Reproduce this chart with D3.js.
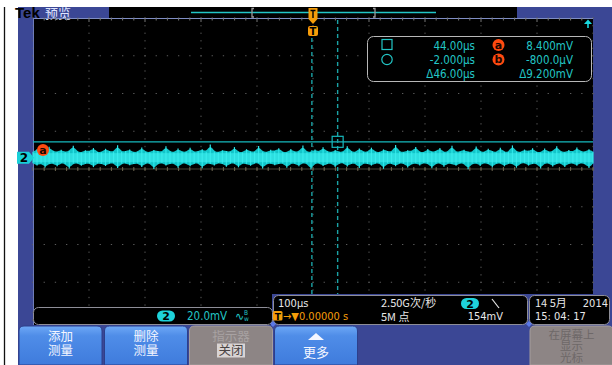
<!DOCTYPE html>
<html><head><meta charset="utf-8">
<script src="https://cdn.jsdelivr.net/npm/d3@7"></script>
<style>html,body{margin:0;padding:0;background:#fff;overflow:hidden}svg{display:block}</style>
</head><body><svg id="scope" width="612" height="365"></svg>
<script>
// Acquisition settings
const timePerDiv = 100;      // µs per division
const voltsPerDiv = 20;      // mV per division
const ch2Position = 0.3;     // divisions above centre
const hDivs = 10, vDivs = 8;
const sampleRate = "2.50G次/秒";
const recordLength = "5M 点";
const triggerLevel = 154;    // mV
const triggerPos = "0.00000 s";
const dateText = ["14 5月", "2014"];
const timeText = "15: 04: 17";

// Channel 2 envelope per display bin (mV): max and min
const ch2High = [3.2,4.6,3.0,2.8,5.8,3.4,3.1,4.2,2.9,3.6,6.3,3.2,2.8,4.0,3.3,5.1,3.0,2.9,4.7,3.4,
  3.1,6.6,3.0,3.5,4.3,2.8,3.2,5.4,3.1,2.9,4.1,3.6,3.0,6.0,3.3,2.8,4.8,3.2,3.0,5.2,
  2.9,3.4,4.4,3.1,7.0,3.2,2.9,4.0,3.5,3.0,5.6,3.1,2.8,4.5,3.3,3.0,6.2,3.2,2.9,4.2,
  3.4,5.0,3.0,2.8,4.6,3.1,3.3,6.4,2.9,3.2,4.3,3.0,5.5,3.4,2.9,4.1,3.1,3.0,6.1,3.3,
  2.8,4.9,3.2,3.0,5.3,3.1,2.9,4.4,3.5,3.0,6.7,3.2,2.9,4.0,3.3,5.7,3.0,2.8,4.6,3.1,
  3.4,5.1,2.9,3.2,6.3,3.0,3.3,4.2,3.1,2.9,5.9,3.2,3.0,4.7,3.4,2.8,5.2,3.1,3.0,6.5,
  3.2,2.9,4.3,3.3,5.0,3.0,2.8,4.8,3.1,3.4,6.0,3.2,2.9,4.1,3.0,5.4,3.3,3.1,4.5,3.2];
const ch2Low = [-3.0,-4.1,-2.9,-5.2,-3.2,-3.0,-4.6,-2.8,-3.4,-5.8,-3.1,-2.9,-4.3,-3.2,-3.0,-5.0,-2.9,-3.3,-4.4,-3.1,
  -2.8,-5.5,-3.2,-3.0,-4.0,-3.4,-2.9,-4.9,-3.1,-3.0,-6.0,-3.2,-2.8,-4.2,-3.3,-3.0,-5.3,-2.9,-3.1,-4.5,
  -3.2,-2.9,-5.6,-3.0,-3.3,-4.1,-2.8,-3.2,-4.8,-3.1,-3.0,-5.1,-2.9,-3.4,-4.3,-3.0,-2.8,-5.7,-3.2,-3.1,
  -4.0,-3.3,-2.9,-5.4,-3.0,-3.2,-4.6,-2.8,-3.1,-6.2,-3.0,-2.9,-4.4,-3.3,-3.0,-5.0,-3.1,-2.8,-4.7,-3.2,
  -3.0,-5.5,-2.9,-3.3,-4.2,-3.1,-2.8,-5.9,-3.0,-3.2,-4.5,-2.9,-3.1,-5.2,-3.3,-3.0,-4.1,-2.8,-3.2,-5.6,
  -3.1,-2.9,-4.8,-3.0,-3.4,-4.3,-2.9,-3.1,-6.1,-3.2,-3.0,-4.4,-2.8,-3.3,-5.1,-3.0,-2.9,-4.6,-3.1,-3.2,
  -5.3,-3.0,-2.8,-4.2,-3.3,-3.1,-5.8,-2.9,-3.0,-4.7,-3.2,-2.9,-5.0,-3.1,-3.0,-4.3,-2.8,-3.4,-5.5,-3.1];

// Cursors a and b
const cursorNames = ["a", "b"];
const cursorTimes = [44, -2];     // µs
const cursorVolts = [8.4, -0.8];  // mV

// Menu buttons
const buttonLabels = [["添加","测量"], ["删除","测量"], ["指示器","关闭"], ["更多"], [], ["在屏幕上","显示","光标"]];
const buttonKinds = ["blue","blue","grey","blue","none","grey"];

const svg = d3.select("#scope");
const MONO = "'DejaVu Sans Condensed','DejaVu Sans',sans-serif";
const CJK = "'Noto Sans CJK SC','DejaVu Sans',sans-serif";
const CYAN = "#22c6c6", ORANGE = "#f59d0a", PANEL = "#3b4795";

// Graticule geometry
const gx0 = 33, gx1 = 593, gy0 = 18, gy1 = 320;
const x = d3.scaleLinear().domain([-hDivs/2*timePerDiv, hDivs/2*timePerDiv]).range([gx0, gx1]);
const yDiv = d3.scaleLinear().domain([-vDivs/2, vDivs/2]).range([gy1, gy0]);
const y = d3.scaleLinear()
  .domain([(-vDivs/2 - ch2Position)*voltsPerDiv, (vDivs/2 - ch2Position)*voltsPerDiv])
  .range([gy1, gy0]);

// Frame and panels
svg.append("rect").attr("width",612).attr("height",365).attr("fill","#fff");
svg.append("line").attr("x1",4.5).attr("x2",4.5).attr("y1",7).attr("y2",365).attr("stroke","#111").attr("stroke-width",1.3);
svg.append("rect").attr("x",18).attr("y",7).attr("width",594).attr("height",358).attr("fill",PANEL);
svg.append("rect").attr("x",109).attr("y",7).attr("width",408).attr("height",11).attr("fill","#000");
svg.append("rect").attr("x",gx0).attr("y",gy0).attr("width",gx1-gx0).attr("height",325-gy0).attr("fill","#000");

svg.append("text").attr("x",15).attr("y",18).attr("font-family","'Liberation Sans',sans-serif")
  .attr("font-weight","bold").attr("font-size",15).attr("fill","#000").text("Tek");
svg.append("text").attr("x",45).attr("y",17.5).attr("font-family",CJK).attr("font-size",13)
  .attr("fill","#dfe4ff").text("预览");

// Record overview bar
svg.append("line").attr("x1",191).attr("x2",436).attr("y1",12.5).attr("y2",12.5).attr("stroke",CYAN).attr("stroke-width",1.3);
[[252, 1], [375, -1]].forEach(([bx, dir]) => {
  svg.append("path").attr("d",`M${bx+2*dir},8.5 H${bx} V17 H${bx+2*dir}`)
    .attr("fill","none").attr("stroke","#9a9a9a").attr("stroke-width",1.3);
});

// Graticule dots
const gDots = svg.append("g").attr("fill","#5c5c5c");
for (let i = 0; i <= hDivs; i++) {
  const vx = gx0 + i*(gx1-gx0)/hDivs;
  for (let k = 0; k <= vDivs*5; k++) {
    const vy = gy0 + k*(gy1-gy0)/(vDivs*5);
    gDots.append("rect").attr("x",vx-0.5).attr("y",vy-0.5).attr("width",1).attr("height",1.3);
  }
}
for (let j = 0; j <= vDivs; j++) {
  const hy = yDiv(j - vDivs/2);
  for (let k = 0; k <= hDivs*5; k++) {
    const hx = gx0 + k*(gx1-gx0)/(hDivs*5);
    gDots.append("rect").attr("x",hx-0.6).attr("y",hy-0.5).attr("width",1.3).attr("height",1);
  }
}
// Centre crosshair with minor ticks
svg.append("line").attr("x1",gx0).attr("x2",gx1).attr("y1",yDiv(0)).attr("y2",yDiv(0)).attr("stroke","#4a4536").attr("stroke-width",1);
for (let k = 0; k <= hDivs*5; k++) {
  const hx = gx0 + k*(gx1-gx0)/(hDivs*5);
  svg.append("line").attr("x1",hx).attr("x2",hx).attr("y1",yDiv(0)-2).attr("y2",yDiv(0)+2).attr("stroke","#6d6650").attr("stroke-width",1);
}
// Top border with ticks
svg.append("line").attr("x1",gx0).attr("x2",gx1).attr("y1",gy0+0.5).attr("y2",gy0+0.5).attr("stroke","#7f8dc4").attr("stroke-width",1.2);
svg.append("line").attr("x1",gx0+0.5).attr("x2",gx0+0.5).attr("y1",gy0).attr("y2",325).attr("stroke","#6f7db8").attr("stroke-width",1);
for (let k = 1; k < hDivs*5; k++) {
  const hx = gx0 + k*(gx1-gx0)/(hDivs*5);
  svg.append("line").attr("x1",hx).attr("x2",hx).attr("y1",gy0).attr("y2",gy0+(k%5===0?4:2.5)).attr("stroke","#777").attr("stroke-width",1);
}

// Cursors
const cA = { t: cursorTimes[0], v: cursorVolts[0] }, cB = { t: cursorTimes[1], v: cursorVolts[1] };
svg.append("line").attr("x1",gx0).attr("x2",gx1).attr("y1",y(cA.v)).attr("y2",y(cA.v)).attr("stroke","#16b9bd").attr("stroke-width",1.2);
svg.append("line").attr("x1",gx0).attr("x2",gx1).attr("y1",y(cB.v)).attr("y2",y(cB.v)).attr("stroke","#16b9bd").attr("stroke-width",1.2);
svg.append("line").attr("x1",x(cA.t)).attr("x2",x(cA.t)).attr("y1",gy0+2).attr("y2",300)
  .attr("stroke","#1aa3a6").attr("stroke-width",1.4).attr("stroke-dasharray","4,3");
svg.append("line").attr("x1",x(cB.t)).attr("x2",x(cB.t)).attr("y1",38).attr("y2",300)
  .attr("stroke","#1aa3a6").attr("stroke-width",1.4).attr("stroke-dasharray","4,3");
svg.append("circle").attr("cx",x(cB.t)).attr("cy",y(cB.v)).attr("r",5).attr("fill","none").attr("stroke","#16b9bd").attr("stroke-width",1.2);

// Channel 2 waveform envelope: smoothed body plus per-bin peak strokes
const n = ch2High.length;
const tOf = i => x.domain()[0] + i*(x.domain()[1]-x.domain()[0])/(n-1);
const env = d3.range(n).map(i => ({ t: tOf(i), hi: ch2High[i], lo: ch2Low[i] }));
svg.append("path").datum(env)
  .attr("d", d3.area().x(d => x(d.t)).y0(d => y(d.lo)).y1(d => y(d.hi)).curve(d3.curveBasis))
  .attr("fill","#12c4c8");
svg.append("g").selectAll("line").data(env).join("line")
  .attr("x1",d => x(d.t)).attr("x2",d => x(d.t)).attr("y1",d => y(d.lo)).attr("y2",d => y(d.hi))
  .attr("stroke","#2ee6e8").attr("stroke-width",1.2);
svg.append("rect").attr("x",gx0).attr("y",y(2.4)).attr("width",gx1-gx0).attr("height",y(-2.4)-y(2.4)).attr("fill","#3ff0f0").attr("opacity",0.6);

// Cursor a marker (square)
svg.append("rect").attr("x",x(cA.t)-5.5).attr("y",y(cA.v)-5.5).attr("width",11).attr("height",11)
  .attr("fill","none").attr("stroke","#16b9bd").attr("stroke-width",1.2);

// Trigger position marker
const tx = x(0);
svg.append("path").attr("d",`M${tx-4.5},8 H${tx+4.5} V19 L${tx},24 L${tx-4.5},19 Z`).attr("fill",ORANGE);
svg.append("path").attr("d",`M${tx-2.5},10.5 H${tx+2.5} M${tx},10.5 V18`).attr("stroke","#000").attr("stroke-width",1.4);
svg.append("rect").attr("x",tx-5).attr("y",26).attr("width",10).attr("height",10).attr("rx",2).attr("fill",ORANGE);
svg.append("text").attr("x",tx).attr("y",35).attr("text-anchor","middle").attr("font-family","'DejaVu Sans',sans-serif")
  .attr("font-weight","bold").attr("font-size",10).attr("fill","#000").text("T");

// Off-screen indicator (top right)
svg.append("path").attr("d","M584,24 L592,24 L588,19.5 Z").attr("fill","#19d9e0");
svg.append("line").attr("x1",588).attr("x2",588).attr("y1",24).attr("y2",28).attr("stroke","#19d9e0").attr("stroke-width",1.6);

// Channel 2 ground marker and cursor label
const z = y(0);
svg.append("path").attr("d",`M17,${z-6} H29 L34,${z} L29,${z+6} H17 Z`).attr("fill","#19d0d8");
svg.append("text").attr("x",24).attr("y",z+4.5).attr("text-anchor","middle").attr("font-family","'DejaVu Sans',sans-serif")
  .attr("font-weight","bold").attr("font-size",12).attr("fill","#000").text("2");
function cursorBadge(cx, cy, label) {
  svg.append("circle").attr("cx",cx).attr("cy",cy).attr("r",6).attr("fill","#ff4a10");
  svg.append("text").attr("x",cx).attr("y",cy+3.8).attr("text-anchor","middle").attr("font-family","'DejaVu Sans',sans-serif")
    .attr("font-weight","bold").attr("font-size",11).attr("fill","#1a0500").text(label);
}
cursorBadge(43, 150, cursorNames[0]);

// Cursor readout
const fmtT = v => (v < 0 ? "-" : "") + d3.format(".4r")(Math.abs(v)) + "µs";
const fmtV = v => Math.abs(v) < 1
  ? (v < 0 ? "-" : "") + d3.format(".1f")(Math.abs(v)*1000) + "µV"
  : (v < 0 ? "-" : "") + d3.format(".4r")(Math.abs(v)) + "mV";
svg.append("rect").attr("x",367.5).attr("y",36.5).attr("width",224).attr("height",45).attr("rx",6)
  .attr("fill","#000").attr("stroke","#b8b8b8").attr("stroke-width",1);
svg.append("rect").attr("x",382).attr("y",39.5).attr("width",10).attr("height",10).attr("fill","none").attr("stroke",CYAN).attr("stroke-width",1.2);
svg.append("circle").attr("cx",387).attr("cy",59.5).attr("r",5.2).attr("fill","none").attr("stroke",CYAN).attr("stroke-width",1.2);
const readRows = [
  [fmtT(cA.t), fmtV(cA.v)],
  [fmtT(cB.t), fmtV(cB.v)],
  ["Δ" + fmtT(cA.t - cB.t), "Δ" + fmtV(cA.v - cB.v)]
];
readRows.forEach((r, i) => {
  const by = 49.5 + i*14;
  svg.append("text").attr("x",475).attr("y",by).attr("text-anchor","end").attr("font-family",MONO).attr("font-size",11.5).attr("fill",CYAN).text(r[0]);
  svg.append("text").attr("x",573).attr("y",by).attr("text-anchor","end").attr("font-family",MONO).attr("font-size",11.5).attr("fill",CYAN).text(r[1]);
});
cursorBadge(498.5, 45, cursorNames[0]);
cursorBadge(498.5, 59.5, cursorNames[1]);

// Bottom readouts
function panel(x0, y0, w, h) {
  svg.append("rect").attr("x",x0+0.5).attr("y",y0+0.5).attr("width",w).attr("height",h).attr("rx",5)
    .attr("fill","#000").attr("stroke","#8e8e98").attr("stroke-width",1);
}
function pill(cx, cy, label) {
  svg.append("rect").attr("x",cx-9).attr("y",cy-5.5).attr("width",18).attr("height",11).attr("rx",5.5).attr("fill","#1ed2da");
  svg.append("text").attr("x",cx).attr("y",cy+4).attr("text-anchor","middle").attr("font-family","'DejaVu Sans',sans-serif")
    .attr("font-weight","bold").attr("font-size",11).attr("fill","#000").text(label);
}
svg.append("rect").attr("x",272).attr("y",294).attr("width",340).attr("height",31).attr("fill",PANEL);
panel(33, 307, 239, 17);
pill(166, 316, "2");
svg.append("text").attr("x",187).attr("y",320).attr("font-family",MONO).attr("font-size",11.5).attr("fill",CYAN)
  .text(d3.format(".1f")(voltsPerDiv) + "mV");
svg.append("text").attr("x",235).attr("y",320).attr("font-family","'DejaVu Sans',sans-serif").attr("font-size",11).attr("fill",CYAN).text("∿");
svg.append("text").attr("x",244).attr("y",315).attr("font-family",MONO).attr("font-size",6.5).attr("fill",CYAN).text("B");
svg.append("text").attr("x",244).attr("y",321).attr("font-family",MONO).attr("font-size",6.5).attr("fill",CYAN).text("w");

panel(273, 295, 254, 29);
svg.append("text").attr("x",278).attr("y",307).attr("font-family",MONO).attr("font-size",11).attr("fill","#e8e8e8").text(timePerDiv + "µs");
svg.append("text").attr("x",381).attr("y",307).attr("font-family",CJK).attr("font-size",11).attr("fill","#e8e8e8").text(sampleRate);
pill(470, 303.5, "2");
svg.append("line").attr("x1",492).attr("x2",499).attr("y1",299).attr("y2",308).attr("stroke","#e8e8e8").attr("stroke-width",1.2);
svg.append("rect").attr("x",273).attr("y",311).attr("width",9.5).attr("height",9.5).attr("rx",1.5).attr("fill",ORANGE);
svg.append("text").attr("x",277.7).attr("y",319.5).attr("text-anchor","middle").attr("font-family","'DejaVu Sans',sans-serif")
  .attr("font-weight","bold").attr("font-size",9).attr("fill","#000").text("T");
svg.append("text").attr("x",283).attr("y",320).attr("font-family",MONO).attr("font-size",11).attr("fill",ORANGE).text("→▼" + triggerPos);
svg.append("text").attr("x",381).attr("y",320.5).attr("font-family",CJK).attr("font-size",11).attr("fill","#e8e8e8").text(recordLength);
svg.append("text").attr("x",503).attr("y",320).attr("text-anchor","end").attr("font-family",MONO).attr("font-size",11).attr("fill","#e8e8e8").text(triggerLevel + "mV");

panel(529, 295, 80, 29);
svg.append("text").attr("x",535).attr("y",307).attr("font-family",CJK).attr("font-size",11).attr("fill","#e8e8e8").text(dateText[0]);
svg.append("text").attr("x",608).attr("y",307).attr("text-anchor","end").attr("font-family",MONO).attr("font-size",11).attr("fill","#e8e8e8").text(dateText[1]);
svg.append("text").attr("x",535).attr("y",320).attr("font-family",MONO).attr("font-size",11).attr("fill","#e8e8e8").text(timeText);
[[273,324],[529,324]].forEach(([dx,dy]) => {
  svg.append("path").attr("d",`M${dx-3},${dy} L${dx},${dy-3} L${dx+3},${dy} L${dx},${dy+3} Z`).attr("fill","#5a78e6");
});

// Soft-key menu
const defs = svg.append("defs");
const gBlue = defs.append("linearGradient").attr("id","btnBlue").attr("x1",0).attr("x2",0).attr("y1",0).attr("y2",1);
gBlue.append("stop").attr("offset",0).attr("stop-color","#6ea8f6");
gBlue.append("stop").attr("offset",0.25).attr("stop-color","#4f8de8");
gBlue.append("stop").attr("offset",1).attr("stop-color","#3f7bdc");
const btnX = [19, 104.5, 189.5, 274.5, 359.5, 530];
const btnW = 83;
// multi-line label drawn as one text element with stacked tspans
function stacked(cx, y0, step, size, fill, lines) {
  const t = svg.append("text").attr("x",cx).attr("y",y0).attr("text-anchor","middle")
    .attr("font-family",CJK).attr("font-size",size).attr("fill",fill);
  lines.forEach((s, k) => t.append("tspan").attr("x",cx).attr("dy",k === 0 ? 0 : step).text(s));
}
buttonKinds.forEach((kind, i) => {
  if (kind === "none") return;
  const bx = btnX[i];
  svg.append("path").attr("d",`M${bx},365 V331 Q${bx},326 ${bx+5},326 H${bx+btnW-5} Q${bx+btnW},326 ${bx+btnW},331 V365 Z`)
    .attr("fill", kind === "blue" ? "url(#btnBlue)" : "#8d8585")
    .attr("stroke", kind === "blue" ? "#2d3f8a" : "#a59d9d").attr("stroke-width",1);
  const lines = buttonLabels[i];
  const cx = bx + btnW/2;
  if (kind === "blue" && lines.length === 1) {
    svg.append("path").attr("d",`M${cx-8},340 L${cx+8},340 L${cx},333 Z`).attr("fill","#f4f6ff");
    svg.append("text").attr("x",cx).attr("y",357).attr("text-anchor","middle").attr("font-family",CJK).attr("font-size",13).attr("fill","#f4f6ff").text(lines[0]);
  } else if (kind === "blue") {
    stacked(cx, 341, 13.5, 12.5, "#f4f6ff", lines);
  } else if (lines.length === 2) {
    svg.append("rect").attr("x",cx-14).attr("y",343.5).attr("width",28).attr("height",14).attr("fill","#d9d4d4");
    const t = svg.append("text").attr("x",cx).attr("y",341).attr("text-anchor","middle").attr("font-family",CJK).attr("font-size",12.5);
    t.append("tspan").attr("x",cx).attr("fill","#a8a2a2").text(lines[0]);
    t.append("tspan").attr("x",cx).attr("dy",14).attr("fill","#4a4444").text(lines[1]);
  } else {
    stacked(cx, 338.5, 11.5, 11.5, "#6e6868", lines);
  }
});
</script></body></html>
